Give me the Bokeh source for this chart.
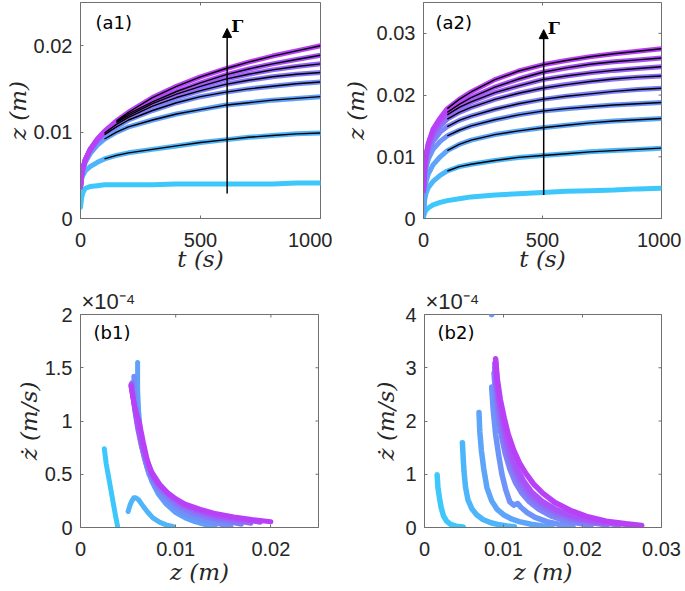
from bokeh.plotting import figure
from bokeh.layouts import column, row
from bokeh.models import Range1d, FixedTicker, Label, Arrow, NormalHead, Title
from bokeh.embed import file_html
from bokeh.resources import INLINE

# ---------------- data ----------------
T = [0, 5, 10, 20, 40, 70, 100, 150, 200, 300, 400, 500, 600, 700, 800, 900, 1000]

A1_Z = [
    [0.0013, 0.0024, 0.0030, 0.0035, 0.0037, 0.0038, 0.0039, 0.0039, 0.0039, 0.0039, 0.0040, 0.0040, 0.0040, 0.0040, 0.0040, 0.0041, 0.0041],
    [0.0036, 0.0046, 0.0050, 0.0055, 0.0060, 0.0065, 0.0069, 0.0073, 0.0076, 0.0080, 0.0084, 0.0088, 0.0091, 0.0094, 0.0096, 0.0098, 0.0099],
    [0.0037, 0.0050, 0.0057, 0.0065, 0.0075, 0.0085, 0.0092, 0.0100, 0.0106, 0.0114, 0.0121, 0.0126, 0.0131, 0.0134, 0.0137, 0.0139, 0.0141],
    [0.0037, 0.0050, 0.0057, 0.0067, 0.0078, 0.0089, 0.0097, 0.0106, 0.0114, 0.0125, 0.0134, 0.0141, 0.0146, 0.0150, 0.0153, 0.0156, 0.0158],
    [0.0037, 0.0050, 0.0058, 0.0068, 0.0079, 0.0090, 0.0099, 0.0109, 0.0117, 0.0130, 0.0140, 0.0148, 0.0155, 0.0160, 0.0164, 0.0167, 0.0169],
    [0.0037, 0.0050, 0.0058, 0.0068, 0.0079, 0.0091, 0.0100, 0.0111, 0.0119, 0.0133, 0.0144, 0.0153, 0.0161, 0.0167, 0.0172, 0.0176, 0.0179],
    [0.0037, 0.0050, 0.0058, 0.0068, 0.0080, 0.0091, 0.0100, 0.0112, 0.0121, 0.0135, 0.0147, 0.0157, 0.0166, 0.0173, 0.0179, 0.0184, 0.0189],
    [0.0036, 0.0050, 0.0058, 0.0068, 0.0080, 0.0092, 0.0101, 0.0113, 0.0123, 0.0140, 0.0153, 0.0164, 0.0173, 0.0181, 0.0188, 0.0194, 0.0200],
]
A1_FIT_FROM = [None, 100, 100, 100, 100, 150, 150, 150]

A2_Z = [
    [0.0002, 0.0009, 0.0013, 0.0017, 0.0022, 0.0026, 0.0029, 0.0032, 0.0035, 0.0038, 0.0040, 0.0042, 0.0044, 0.0045, 0.0046, 0.0048, 0.0049],
    [0.0005, 0.0030, 0.0040, 0.0050, 0.0060, 0.0070, 0.0077, 0.0084, 0.0088, 0.0094, 0.0099, 0.0102, 0.0105, 0.0108, 0.0110, 0.0112, 0.0114],
    [0.0008, 0.0045, 0.0058, 0.0072, 0.0087, 0.0100, 0.0110, 0.0120, 0.0127, 0.0136, 0.0142, 0.0147, 0.0151, 0.0155, 0.0158, 0.0160, 0.0162],
    [0.0040, 0.0068, 0.0081, 0.0096, 0.0112, 0.0125, 0.0134, 0.0143, 0.0150, 0.0160, 0.0168, 0.0174, 0.0178, 0.0181, 0.0184, 0.0186, 0.0188],
    [0.0045, 0.0075, 0.0090, 0.0107, 0.0125, 0.0140, 0.0149, 0.0159, 0.0166, 0.0177, 0.0186, 0.0193, 0.0198, 0.0202, 0.0206, 0.0209, 0.0211],
    [0.0045, 0.0078, 0.0094, 0.0113, 0.0133, 0.0150, 0.0161, 0.0172, 0.0180, 0.0193, 0.0203, 0.0211, 0.0217, 0.0222, 0.0226, 0.0229, 0.0231],
    [0.0045, 0.0080, 0.0097, 0.0117, 0.0138, 0.0156, 0.0168, 0.0180, 0.0189, 0.0204, 0.0215, 0.0225, 0.0231, 0.0236, 0.0240, 0.0243, 0.0246],
    [0.0045, 0.0083, 0.0100, 0.0120, 0.0142, 0.0160, 0.0172, 0.0185, 0.0196, 0.0213, 0.0226, 0.0237, 0.0244, 0.0250, 0.0254, 0.0257, 0.0260],
    [0.0045, 0.0085, 0.0102, 0.0122, 0.0145, 0.0163, 0.0178, 0.0193, 0.0205, 0.0225, 0.0239, 0.0249, 0.0256, 0.0262, 0.0267, 0.0271, 0.0275],
]
A2_FIT_FROM = [None, 100, 100, 100, 100, 100, 100, 100, 100]

# phase plots: z (m) and zdot in units of 1e-4 m/s
B1_Z = [
    [0.0025, 0.0026, 0.0027, 0.0029, 0.0031, 0.0033, 0.0035, 0.0037, 0.0039],
    [0.0050, 0.0052, 0.0054, 0.0056, 0.0058, 0.0061, 0.0065, 0.0070, 0.0076, 0.0083, 0.0090, 0.0097],
    [0.0060, 0.0060, 0.0061, 0.0063, 0.0066, 0.0070, 0.0075, 0.0082, 0.0090, 0.0100, 0.0110, 0.0120, 0.0130, 0.0141],
    [0.0056, 0.0057, 0.0058, 0.0060, 0.0063, 0.0067, 0.0072, 0.0079, 0.0088, 0.0100, 0.0112, 0.0125, 0.0140, 0.0158],
    [0.0054, 0.0055, 0.0057, 0.0060, 0.0064, 0.0069, 0.0075, 0.0083, 0.0093, 0.0105, 0.0120, 0.0135, 0.0152, 0.0169],
    [0.0054, 0.0055, 0.0057, 0.0060, 0.0064, 0.0069, 0.0075, 0.0083, 0.0093, 0.0106, 0.0122, 0.0140, 0.0160, 0.0179],
    [0.0053, 0.0055, 0.0057, 0.0060, 0.0064, 0.0069, 0.0075, 0.0083, 0.0093, 0.0107, 0.0124, 0.0144, 0.0166, 0.0189],
    [0.0053, 0.0055, 0.0058, 0.0062, 0.0066, 0.0070, 0.0075, 0.0082, 0.0091, 0.0100, 0.0110, 0.0126, 0.0140, 0.0161, 0.0180, 0.0200],
]
B1_ZDOT = [
    [0.74, 0.67, 0.60, 0.50, 0.40, 0.30, 0.20, 0.10, 0.01],
    [0.15, 0.21, 0.25, 0.28, 0.28, 0.26, 0.21, 0.15, 0.09, 0.05, 0.025, 0.01],
    [1.55, 1.30, 1.10, 0.90, 0.72, 0.56, 0.43, 0.31, 0.22, 0.14, 0.09, 0.055, 0.03, 0.01],
    [1.42, 1.28, 1.15, 1.00, 0.82, 0.65, 0.50, 0.38, 0.27, 0.18, 0.12, 0.08, 0.045, 0.01],
    [1.36, 1.25, 1.10, 0.93, 0.76, 0.60, 0.47, 0.36, 0.27, 0.19, 0.13, 0.09, 0.06, 0.03],
    [1.35, 1.25, 1.12, 0.96, 0.79, 0.63, 0.50, 0.39, 0.30, 0.21, 0.15, 0.10, 0.07, 0.04],
    [1.34, 1.23, 1.12, 0.97, 0.81, 0.65, 0.52, 0.41, 0.31, 0.22, 0.16, 0.11, 0.08, 0.05],
    [1.33, 1.22, 1.10, 0.98, 0.80, 0.64, 0.50, 0.41, 0.33, 0.27, 0.22, 0.17, 0.135, 0.10, 0.075, 0.055],
]

B2_Z = [
    [0.0016, 0.0017, 0.0019, 0.0021, 0.0024, 0.0028, 0.0033, 0.0040, 0.0049],
    [0.0048, 0.0049, 0.0050, 0.0052, 0.0055, 0.0060, 0.0066, 0.0074, 0.0084, 0.0095, 0.0105, 0.0114],
    [0.0069, 0.0070, 0.0072, 0.0075, 0.0079, 0.0085, 0.0092, 0.0100, 0.0110, 0.0120, 0.0135, 0.0150, 0.0161],
    [0.0085, 0.0087, 0.0090, 0.0094, 0.0098, 0.0103, 0.0108, 0.0113, 0.0118, 0.0122, 0.0130, 0.0140, 0.0155, 0.0170, 0.0188],
    [0.0088, 0.0090, 0.0093, 0.0097, 0.0102, 0.0108, 0.0115, 0.0123, 0.0133, 0.0145, 0.0160, 0.0178, 0.0195, 0.0211],
    [0.0089, 0.0091, 0.0094, 0.0098, 0.0103, 0.0109, 0.0116, 0.0124, 0.0134, 0.0146, 0.0162, 0.0182, 0.0205, 0.0231],
    [0.0089, 0.0091, 0.0095, 0.0099, 0.0104, 0.0110, 0.0117, 0.0125, 0.0135, 0.0148, 0.0165, 0.0186, 0.0212, 0.0246],
    [0.0090, 0.0092, 0.0095, 0.0100, 0.0105, 0.0111, 0.0118, 0.0126, 0.0136, 0.0149, 0.0166, 0.0188, 0.0218, 0.0260],
    [0.0090, 0.0092, 0.0096, 0.0101, 0.0106, 0.0113, 0.0120, 0.0128, 0.0138, 0.0150, 0.0165, 0.0185, 0.0205, 0.0230, 0.0255, 0.0275],
]
B2_ZDOT = [
    [0.99, 0.75, 0.55, 0.38, 0.22, 0.12, 0.06, 0.025, 0.01],
    [1.59, 1.30, 1.05, 0.75, 0.52, 0.35, 0.24, 0.15, 0.09, 0.05, 0.03, 0.015],
    [2.16, 1.80, 1.45, 1.10, 0.75, 0.50, 0.34, 0.24, 0.16, 0.11, 0.06, 0.03, 0.015],
    [2.64, 2.20, 1.75, 1.35, 1.00, 0.70, 0.48, 0.42, 0.45, 0.38, 0.28, 0.19, 0.11, 0.06, 0.03],
    [2.90, 2.50, 2.10, 1.75, 1.40, 1.10, 0.85, 0.65, 0.48, 0.34, 0.22, 0.13, 0.08, 0.04],
    [3.00, 2.60, 2.20, 1.85, 1.50, 1.20, 0.95, 0.74, 0.56, 0.41, 0.28, 0.17, 0.10, 0.05],
    [3.08, 2.68, 2.28, 1.92, 1.58, 1.28, 1.02, 0.80, 0.61, 0.45, 0.31, 0.19, 0.11, 0.05],
    [3.12, 2.74, 2.35, 2.00, 1.65, 1.35, 1.08, 0.86, 0.66, 0.49, 0.34, 0.21, 0.12, 0.05],
    [3.17, 2.80, 2.40, 2.05, 1.75, 1.45, 1.22, 1.02, 0.82, 0.64, 0.47, 0.32, 0.21, 0.12, 0.07, 0.04],
]
B2_OUTLIER_Z = [0.0085]
B2_OUTLIER_ZDOT = [4.0]

# arrows (Gamma increasing)
A1_ARROW_T = 611
A1_ARROW_Z = [0.0029, 0.0220]
A2_ARROW_T = 505
A2_ARROW_Z = [0.0038, 0.0306]

# ticks
T_TICKS = [0, 500, 1000]
T_LABELS = ["0", "500", "1000"]
A1_Z_TICKS = [0, 0.01, 0.02]
A1_Z_LABELS = ["0", "0.01", "0.02"]
A2_Z_TICKS = [0, 0.01, 0.02, 0.03]
A2_Z_LABELS = ["0", "0.01", "0.02", "0.03"]
B1_Z_TICKS = [0, 0.01, 0.02]
B1_Z_LABELS = ["0", "0.01", "0.02"]
B2_Z_TICKS = [0, 0.01, 0.02, 0.03]
B2_Z_LABELS = ["0", "0.01", "0.02", "0.03"]
B1_ZD_TICKS = [0, 0.5, 1, 1.5, 2]
B1_ZD_LABELS = ["0", "0.5", "1", "1.5", "2"]
B2_ZD_TICKS = [0, 1, 2, 3, 4]
B2_ZD_LABELS = ["0", "1", "2", "3", "4"]

# ---------------- style ----------------
AX = "#262626"
BOX = "#707070"
SANS = "Liberation Sans"
SERIF = "DejaVu Serif"
C0 = (62, 199, 250)
C1 = (185, 64, 247)


def cmap(n):
    out = []
    for i in range(n):
        f = i / (n - 1)
        out.append("#%02x%02x%02x" % tuple(int(round(a + (b - a) * f)) for a, b in zip(C0, C1)))
    return out


def make_fig(xr, yr, fw, fh, lb, rb, tb, bb, xt, xl, yt, yl, xlab, ylab, xso, yso, title=None):
    p = figure(frame_width=fw, frame_height=fh,
               x_range=Range1d(*xr), y_range=Range1d(*yr),
               min_border_left=lb, min_border_right=rb,
               min_border_top=tb, min_border_bottom=bb,
               output_backend="svg", toolbar_location=None)
    p.xgrid.visible = False
    p.ygrid.visible = False
    p.outline_line_color = BOX
    p.outline_line_width = 1
    p.background_fill_color = "white"
    p.border_fill_color = "white"
    for ax, ticks, labels, so, lab, lso in ((p.xaxis[0], xt, xl, 14, xlab, xso),
                                            (p.yaxis[0], yt, yl, 8, ylab, yso)):
        ax.ticker = FixedTicker(ticks=ticks)
        ax.major_label_overrides = {t: s for t, s in zip(ticks, labels)}
        ax.major_tick_in = 3
        ax.major_tick_out = 0
        ax.minor_tick_in = 0
        ax.minor_tick_out = 0
        ax.axis_line_color = BOX
        ax.major_tick_line_color = BOX
        ax.major_label_text_font = SANS
        ax.major_label_text_font_size = "20px"
        ax.major_label_text_color = AX
        ax.major_label_standoff = so
        ax.axis_label = lab
        ax.axis_label_text_font = SERIF
        ax.axis_label_text_font_style = "italic"
        ax.axis_label_text_font_size = "23px"
        ax.axis_label_text_color = AX
        ax.axis_label_standoff = lso
    # inward ticks on the right and top edges (half of each dash is clipped away)
    p.scatter([xr[1]] * len(yt), yt, marker="dash", size=6, line_color=BOX, line_width=1)
    p.scatter(xt, [yr[1]] * len(xt), marker="dash", angle=1.5707963, size=6,
              line_color=BOX, line_width=1)
    if title:
        p.title = Title(text=title, align="left", offset=1, standoff=1,
                        text_font=SANS, text_font_size="22px", text_font_style="normal",
                        text_color=AX)
    return p


def panel_label(p, text, xr, yr, fw, fh, dx, dy):
    sx = (xr[1] - xr[0]) / fw
    sy = (yr[1] - yr[0]) / fh
    p.add_layout(Label(x=xr[0] + dx * sx, y=yr[1] - dy * sy, text=text, text_align="left",
                       text_baseline="middle", text_font="DejaVu Sans",
                       text_font_size="18px", text_color="black"))


def gamma_arrow(p, t, zs, xr, yr, fw, fh):
    sx = (xr[1] - xr[0]) / fw
    sy = (yr[1] - yr[0]) / fh
    p.add_layout(Arrow(end=NormalHead(size=9, fill_color="black", line_color="black"),
                       x_start=t, y_start=zs[0], x_end=t, y_end=zs[1],
                       line_color="black", line_width=1.5))
    p.add_layout(Label(x=t + 4 * sx, y=zs[1] + 2 * sy, text="\u0393", text_align="left",
                       text_baseline="middle", text_font=SERIF, text_font_style="bold",
                       text_font_size="17px", text_color="black"))


def draw_time(p, curves, fit_from, lw):
    cols = cmap(len(curves))
    for z, c in zip(curves, cols):
        p.line(T, z, line_color=c, line_width=lw, line_cap="round", line_join="round")
    for z, f in zip(curves, fit_from):
        if f is None:
            continue
        i = T.index(f)
        p.line(T[i:], z[i:], line_color="black", line_width=1.4)


def draw_phase(p, zs, zds, lw):
    cols = cmap(len(zs))
    for z, zd, c in zip(zs, zds, cols):
        p.line(z, zd, line_color=c, line_width=lw, line_cap="round", line_join="round")


# ---------------- panels ----------------
A1_XR, A1_YR = (0, 1000), (0, 0.025)
A2_XR, A2_YR = (0, 1000), (0, 0.035)
B1_XR, B1_YR = (0, 0.025), (0, 2)
B2_XR, B2_YR = (0, 0.03), (0, 4)

AFH, ATB, ABB = 216, 2, 67
BFH, BTB, BBB = 213, 29, 63
EXP = "\u00d710\u207b\u2074"

a1 = make_fig(A1_XR, A1_YR, 240, AFH, 80, 12, ATB, ABB, T_TICKS, T_LABELS, A1_Z_TICKS, A1_Z_LABELS,
              "t (s)", "z (m)", -4, 0)
draw_time(a1, A1_Z, A1_FIT_FROM, 5)
gamma_arrow(a1, A1_ARROW_T, A1_ARROW_Z, A1_XR, A1_YR, 240, AFH)
panel_label(a1, "(a1)", A1_XR, A1_YR, 240, AFH, 15, 20)

a2 = make_fig(A2_XR, A2_YR, 238, AFH, 91, 20, ATB, ABB, T_TICKS, T_LABELS, A2_Z_TICKS, A2_Z_LABELS,
              "t (s)", "z (m)", -4, 5)
draw_time(a2, A2_Z, A2_FIT_FROM, 5)
gamma_arrow(a2, A2_ARROW_T, A2_ARROW_Z, A2_XR, A2_YR, 238, AFH)
panel_label(a2, "(a2)", A2_XR, A2_YR, 238, AFH, 12, 20)

b1 = make_fig(B1_XR, B1_YR, 238, BFH, 80, 14, BTB, BBB, B1_Z_TICKS, B1_Z_LABELS, B1_ZD_TICKS, B1_ZD_LABELS,
              "z (m)", "\u017c (m/s)", 0, 0, title=EXP)
draw_phase(b1, B1_Z, B1_ZDOT, 5)
panel_label(b1, "(b1)", B1_XR, B1_YR, 238, BFH, 13, 18)

b2 = make_fig(B2_XR, B2_YR, 237, BFH, 92, 20, BTB, BBB, B2_Z_TICKS, B2_Z_LABELS, B2_ZD_TICKS, B2_ZD_LABELS,
              "z (m)", "\u017c (m/s)", 0, 3, title=EXP)
draw_phase(b2, B2_Z, B2_ZDOT, 5.5)
b2.scatter(B2_OUTLIER_Z, B2_OUTLIER_ZDOT, size=5, color=cmap(9)[3])
panel_label(b2, "(b2)", B2_XR, B2_YR, 237, BFH, 13, 18)

layout = column(row(a1, a2), row(b1, b2))
open("out.html", "w").write(file_html(layout, INLINE))
